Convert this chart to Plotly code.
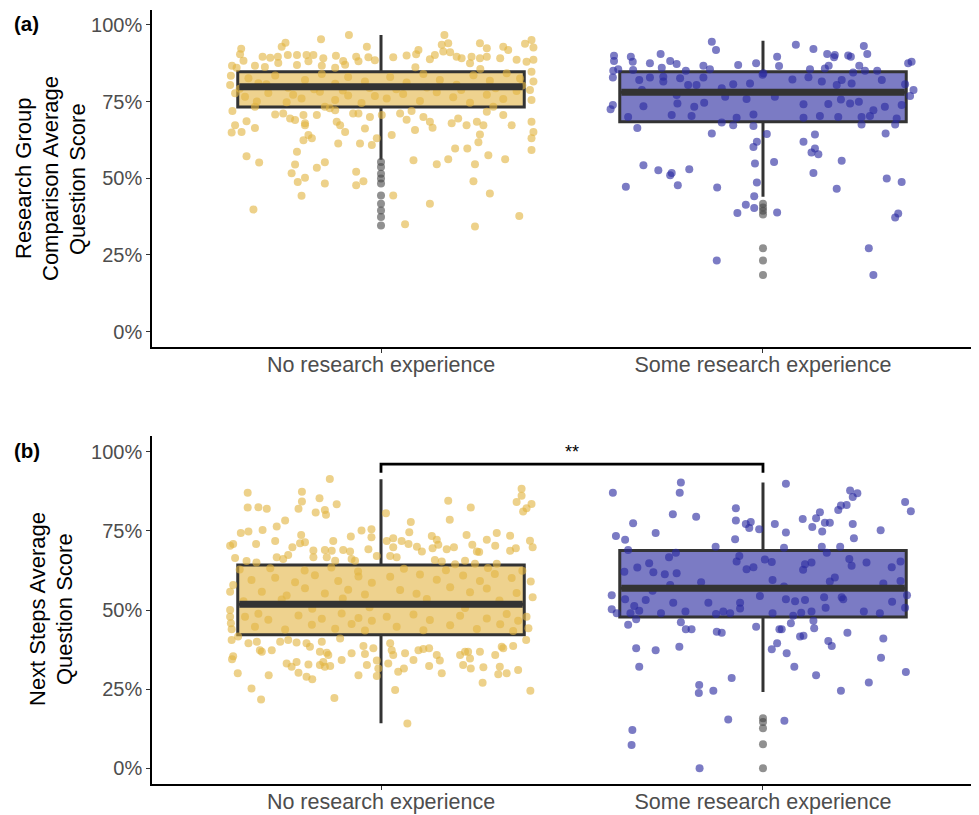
import plotly.graph_objects as go

CATEGORIES = ["No research experience", "Some research experience"]
POSITIONS = [1, 2]
Y_TICKS = [0, 25, 50, 75, 100]
Y_TICK_LABELS = ["0%", "25%", "50%", "75%", "100%"]

# ---- Panel (a): Research Group Comparison ----
A_Q1 = [73.2, 68.4]
A_MEDIAN = [79.8, 78.0]
A_Q3 = [84.7, 84.7]
A_LOWER = [56.0, 44.0]
A_UPPER = [96.7, 94.8]
A_OUTLIERS_NO = [55.3, 53.7, 51.5, 49.9, 48.3, 44.4, 41.7, 39.5, 37.4, 34.6]
A_OUTLIERS_SOME = [41.7, 40.5, 39.4, 38.2, 27.2, 23.2, 18.5]

# jittered points: (horizontal jitter offset, score)
A_POINTS_NO = [
    (-0.084, 96.7), (-0.157, 95.3), (-0.25, 94.2), (-0.26, 92.9), (-0.366, 92.2), (-0.369, 90.4), (-0.36, 88.3),
    (-0.31, 89.6), (-0.29, 89.3), (-0.27, 89.6), (-0.244, 90.2), (-0.22, 90.2), (-0.195, 90.2), (-0.177, 90.2),
    (-0.151, 89.1), (-0.118, 89.9), (-0.099, 88.2), (-0.065, 89.6), (-0.033, 89.4), (-0.037, 92.9),
    (-0.39, 86.7), (-0.378, 86.0), (-0.33, 86.7), (-0.304, 86.3), (-0.269, 87.6), (-0.22, 86.9), (-0.19, 88.1),
    (-0.155, 86.7), (-0.12, 86.0), (-0.094, 87.0), (-0.059, 88.1), (-0.016, 88.5),
    (-0.393, 83.4), (-0.395, 80.4), (-0.382, 77.7),
    (-0.389, 71.9), (-0.33, 73.3), (-0.277, 70.8), (-0.256, 71.1), (-0.238, 69.5), (-0.225, 69.0), (-0.203, 70.6),
    (-0.199, 67.9), (-0.168, 70.6), (-0.147, 73.3), (-0.134, 72.8), (-0.12, 72.2), (-0.073, 71.1), (-0.059, 71.1),
    (-0.029, 70.0), (0.002, 70.6), (-0.382, 67.3), (-0.352, 68.6), (-0.33, 66.4), (-0.391, 64.9), (-0.365, 65.1),
    (-0.199, 67.3), (-0.19, 64.1), (-0.203, 62.4), (-0.181, 63.0), (-0.116, 68.4), (-0.107, 67.3), (-0.094, 65.1),
    (-0.042, 66.2), (-0.024, 60.8), (-0.011, 63.0), (-0.112, 61.3), (-0.055, 61.3), (-0.22, 58.6), (-0.352, 57.2),
    (-0.319, 55.1), (-0.225, 54.5), (-0.234, 51.6), (-0.147, 55.2), (-0.168, 53.4), (-0.065, 52.1), (-0.046, 49.0),
    (-0.065, 47.7), (-0.218, 48.8), (-0.199, 50.2), (-0.147, 48.3), (-0.208, 44.3), (-0.334, 39.8),
    (-0.347, 82.6), (-0.321, 81.0), (-0.277, 83.5), (-0.243, 79.5), (-0.199, 82.0), (-0.155, 84.0), (-0.12, 80.8),
    (-0.086, 83.0), (-0.042, 81.5), (-0.356, 76.6), (-0.325, 75.0), (-0.295, 77.8), (-0.247, 74.8), (-0.208, 76.0),
    (-0.16, 78.2), (-0.12, 75.5), (-0.086, 77.0), (-0.051, 74.5), (-0.016, 76.8),
    (-0.37, 79.2), (-0.3, 80.6), (-0.23, 77.2), (-0.175, 79.0), (-0.1, 78.6), (-0.03, 79.4),
    (0.166, 96.7), (0.159, 93.5), (0.176, 94.0), (0.163, 91.3), (0.181, 91.1), (0.198, 89.6), (0.211, 89.1),
    (0.098, 91.8), (0.092, 90.4), (0.032, 89.4), (0.067, 90.0), (0.128, 88.8), (0.141, 90.2), (0.237, 89.6),
    (0.233, 87.5), (0.259, 94.0), (0.277, 92.4), (0.259, 89.1), (0.277, 89.6), (0.312, 89.1), (0.32, 92.9),
    (0.333, 91.8), (0.355, 88.6), (0.377, 93.8), (0.394, 95.1), (0.399, 92.6), (0.381, 88.0), (0.399, 88.6),
    (0.394, 84.7), (0.399, 81.5), (0.39, 78.8), (0.394, 75.5),
    (0.05, 71.1), (0.067, 69.1), (0.08, 71.9), (0.111, 70.0), (0.128, 68.4), (0.135, 66.5), (0.185, 67.9),
    (0.202, 69.5), (0.224, 67.3), (0.251, 68.4), (0.268, 67.3), (0.277, 71.7), (0.294, 73.3), (0.32, 70.6),
    (0.342, 67.3), (0.394, 68.4), (0.399, 65.1), (0.394, 63.0), (0.259, 64.3), (0.255, 61.7), (0.194, 59.7),
    (0.226, 59.7), (0.394, 59.2), (0.028, 64.1), (0.089, 65.7),
    (0.085, 55.9), (0.146, 54.6), (0.176, 56.2), (0.246, 54.6), (0.281, 57.5), (0.325, 56.2), (0.242, 49.0),
    (0.285, 45.0), (0.032, 44.4), (0.128, 41.7), (0.362, 37.7), (0.063, 35.0), (0.246, 34.3),
    (0.024, 83.0), (0.067, 81.2), (0.111, 84.0), (0.154, 82.0), (0.198, 80.5), (0.242, 83.6), (0.285, 81.8),
    (0.329, 84.2), (0.364, 82.5), (0.015, 76.0), (0.058, 77.5), (0.102, 75.2), (0.146, 78.0), (0.189, 76.4),
    (0.233, 74.6), (0.277, 77.2), (0.32, 75.8), (0.355, 78.4),
    (0.04, 79.0), (0.12, 79.6), (0.21, 78.8), (0.3, 79.3), (0.37, 80.2), (0.26, 85.6), (0.09, 86.2),
]

A_POINTS_SOME = [
    (-0.134, 94.5), (-0.123, 91.8), (-0.268, 90.5), (-0.243, 88.2), (-0.226, 87.2), (-0.296, 87.5), (-0.346, 89.6),
    (-0.341, 88.0), (-0.39, 89.9), (-0.39, 88.2), (-0.392, 85.0), (-0.393, 82.8), (-0.379, 85.5), (-0.34, 85.3),
    (-0.265, 86.0), (-0.202, 85.0), (-0.156, 86.7), (-0.139, 85.5), (-0.065, 86.9), (-0.018, 87.5), (0.001, 84.2),
    (-0.393, 73.9), (-0.399, 72.5),
    (-0.324, 82.0), (-0.296, 82.8), (-0.261, 83.1), (-0.217, 82.6), (-0.196, 80.4), (-0.174, 80.4), (-0.156, 82.8),
    (-0.078, 80.6), (-0.034, 80.9), (-0.313, 73.5), (-0.224, 74.4), (-0.18, 73.3), (-0.154, 74.6), (-0.239, 70.6),
    (-0.187, 70.3), (-0.099, 76.6), (-0.043, 75.8), (-0.025, 70.8), (-0.069, 69.7), (-0.353, 70.0), (-0.108, 79.3),
    (-0.226, 77.1), (-0.261, 81.5), (-0.317, 78.8),
    (-0.329, 66.4), (-0.134, 64.6), (-0.108, 68.2), (-0.078, 67.3), (-0.025, 67.0), (-0.016, 61.9), (-0.025, 60.2),
    (-0.021, 54.8), (-0.016, 48.6), (-0.023, 44.1), (-0.045, 41.4), (-0.067, 38.7), (-0.023, 40.3), (-0.313, 54.2),
    (-0.274, 52.6), (-0.243, 51.0), (-0.239, 51.7), (-0.193, 52.9), (-0.223, 47.7), (-0.359, 47.2), (-0.12, 47.0),
    (-0.121, 23.2),
    (0.086, 93.5), (0.132, 92.1), (0.168, 90.5), (0.186, 89.4), (0.188, 90.2), (0.223, 90.0), (0.23, 89.6),
    (0.264, 93.1), (0.273, 90.5), (0.252, 86.7), (0.172, 86.7), (0.162, 85.8), (0.123, 85.5), (0.037, 89.6),
    (0.042, 86.6), (0.38, 87.5), (0.389, 88.0), (0.299, 85.0), (0.267, 85.0), (0.236, 84.5),
    (0.394, 78.8), (0.385, 76.8), (0.372, 80.6),
    (0.077, 82.2), (0.119, 82.9), (0.154, 81.5), (0.206, 82.0), (0.232, 80.9), (0.311, 82.0), (0.106, 74.1),
    (0.171, 74.2), (0.204, 75.7), (0.228, 74.4), (0.251, 74.9), (0.289, 72.2), (0.319, 73.3), (0.363, 73.9),
    (0.106, 69.7), (0.149, 70.3), (0.197, 70.0), (0.258, 70.0), (0.28, 70.3), (0.35, 69.5), (0.031, 76.6),
    (-0.001, 83.7), (0.193, 80.4),
    (0.01, 64.4), (0.136, 64.3), (0.106, 61.9), (0.136, 59.7), (0.127, 58.4), (0.145, 57.8), (0.206, 55.7),
    (0.029, 55.3), (0.132, 51.7), (0.193, 46.6), (0.321, 64.6), (0.258, 67.5), (0.346, 67.5), (0.324, 49.9),
    (0.363, 48.8), (0.037, 38.8), (0.354, 38.5), (0.346, 37.2), (0.277, 27.2), (0.289, 18.5),
]

# ---- Panel (b): Next Steps ----
B_Q1 = [42.2, 47.8]
B_MEDIAN = [51.8, 56.9]
B_Q3 = [64.2, 68.8]
B_LOWER = [14.2, 24.1]
B_UPPER = [91.3, 90.3]
B_OUTLIERS_NO = []
B_OUTLIERS_SOME = [15.8, 14.6, 12.6, 7.6, 0.0]
B_SIG_Y = [93.4, 96.1]
B_SIG_LABEL = "**"

B_POINTS_NO = [
    (-0.134, 91.4), (-0.349, 87.1), (-0.207, 87.4), (-0.349, 82.4), (-0.321, 82.5), (-0.299, 82.0), (-0.216, 82.0),
    (-0.207, 84.3), (-0.161, 85.3), (-0.116, 83.4), (-0.171, 80.8), (-0.147, 81.6), (-0.144, 80.1), (-0.251, 78.3),
    (-0.273, 76.4), (-0.31, 75.3), (-0.347, 74.8), (-0.367, 74.3), (-0.395, 70.3), (-0.387, 70.9), (-0.327, 70.9),
    (-0.277, 71.8), (-0.209, 73.7), (-0.212, 71.1), (-0.199, 71.4), (-0.232, 69.8), (-0.177, 68.8), (-0.147, 69.0),
    (-0.129, 68.7), (-0.125, 71.8), (-0.099, 69.0), (-0.079, 73.2), (-0.081, 68.5), (-0.051, 75.1), (-0.025, 75.5),
    (-0.025, 73.0), (-0.033, 69.2), (-0.382, 66.4), (-0.352, 65.5), (-0.326, 65.0), (-0.273, 66.7), (-0.256, 66.1),
    (-0.243, 67.4), (-0.177, 66.7), (-0.142, 66.7), (-0.12, 65.6), (-0.077, 66.1), (-0.068, 65.6), (-0.011, 67.1),
    (-0.387, 57.9), (-0.395, 55.8), (-0.395, 50.0), (-0.395, 47.9), (-0.393, 45.8), (-0.391, 43.9), (-0.391, 40.5),
    (-0.374, 41.6), (-0.347, 39.5), (-0.325, 40.0), (-0.312, 36.8), (-0.317, 37.3), (-0.286, 37.3), (-0.264, 40.0),
    (-0.243, 40.5), (-0.221, 39.7), (-0.195, 39.5), (-0.186, 38.4), (-0.155, 40.0), (-0.16, 36.8), (-0.142, 36.5),
    (-0.138, 35.8), (-0.107, 41.0), (-0.103, 34.2), (-0.077, 36.3), (-0.046, 38.6), (-0.042, 36.1), (-0.037, 32.6),
    (-0.02, 37.9), (-0.011, 34.0), (-0.007, 31.5), (-0.247, 33.1), (-0.234, 32.1), (-0.221, 33.6), (-0.216, 30.2),
    (-0.19, 32.8), (-0.16, 32.6), (-0.147, 32.1), (-0.151, 33.6), (-0.133, 32.3), (-0.195, 28.9), (-0.18, 28.1),
    (-0.294, 29.4), (-0.375, 30.0), (-0.39, 34.4), (-0.387, 35.4), (-0.059, 29.4), (-0.011, 29.1), (-0.339, 25.2),
    (-0.314, 21.7), (-0.122, 22.2),
    (-0.339, 59.5), (-0.277, 60.2), (-0.225, 58.8), (-0.173, 61.0), (-0.112, 59.2), (-0.059, 60.6), (-0.024, 58.6),
    (-0.312, 55.8), (-0.247, 54.6), (-0.199, 56.9), (-0.147, 55.2), (-0.086, 56.4), (-0.042, 54.9),
    (-0.356, 47.9), (-0.321, 48.8), (-0.295, 46.9), (-0.216, 48.3), (-0.155, 47.2), (-0.103, 48.9), (-0.059, 47.5),
    (-0.024, 46.6), (-0.33, 44.7), (-0.251, 43.8), (-0.181, 45.3), (-0.12, 44.1), (-0.077, 45.6), (-0.042, 43.5),
    (-0.37, 62.8), (-0.29, 63.2), (-0.2, 62.5), (-0.13, 63.4), (-0.06, 62.2), (-0.36, 52.8), (-0.26, 53.3),
    (-0.18, 50.4), (-0.1, 53.6), (-0.03, 50.9),
    (0.368, 88.3), (0.368, 86.1), (0.355, 84.1), (0.394, 83.5), (0.381, 82.2), (0.372, 81.1), (0.176, 84.5),
    (0.235, 82.4), (0.18, 78.5), (0.078, 77.8), (0.074, 74.6), (0.133, 73.4), (0.146, 72.2), (0.15, 70.6),
    (0.054, 71.8), (0.072, 70.9), (0.094, 70.0), (0.107, 68.5), (0.032, 72.7), (0.015, 71.8), (0.013, 80.6),
    (0.032, 69.8), (0.041, 66.7), (0.024, 67.1), (0.135, 69.5), (0.172, 69.2), (0.191, 69.8), (0.224, 73.7),
    (0.239, 70.6), (0.251, 68.5), (0.257, 68.3), (0.277, 72.2), (0.299, 70.3), (0.303, 74.3), (0.338, 73.5),
    (0.338, 68.7), (0.353, 69.5), (0.39, 71.9), (0.397, 69.8), (0.141, 65.8), (0.159, 65.3), (0.194, 64.5),
    (0.22, 65.6), (0.246, 64.6), (0.303, 64.6),
    (0.392, 59.0), (0.397, 54.0), (0.381, 47.9), (0.386, 44.2), (0.38, 40.5),
    (0.024, 39.5), (0.028, 37.3), (0.032, 35.8), (0.019, 33.1), (0.063, 36.3), (0.045, 30.5), (0.06, 31.5),
    (0.085, 34.2), (0.098, 37.3), (0.111, 37.7), (0.126, 37.9), (0.146, 35.8), (0.154, 34.0), (0.126, 32.3),
    (0.159, 30.0), (0.207, 35.8), (0.22, 36.8), (0.228, 36.8), (0.233, 34.7), (0.215, 32.6), (0.235, 31.5),
    (0.259, 36.8), (0.268, 31.9), (0.299, 35.8), (0.316, 38.4), (0.32, 37.9), (0.346, 38.6), (0.307, 29.7),
    (0.329, 30.0), (0.311, 32.1), (0.359, 31.0), (0.266, 27.0), (0.037, 24.7), (0.391, 24.5), (0.069, 14.1),
    (0.024, 60.5), (0.102, 61.2), (0.146, 59.6), (0.215, 60.9), (0.259, 59.2), (0.298, 61.4), (0.342, 60.1),
    (0.05, 56.3), (0.093, 55.1), (0.181, 57.2), (0.233, 55.6), (0.277, 56.8), (0.355, 55.4),
    (0.015, 47.9), (0.085, 48.6), (0.128, 46.8), (0.207, 48.2), (0.277, 47.3), (0.329, 48.7), (0.359, 46.6),
    (0.041, 44.7), (0.111, 43.6), (0.181, 45.2), (0.251, 44.0), (0.312, 45.5), (0.346, 43.4),
    (0.06, 63.0), (0.17, 62.6), (0.28, 63.3), (0.37, 62.4), (0.12, 53.5), (0.22, 50.6), (0.31, 53.0),
]

B_POINTS_SOME = [
    (-0.215, 90.3), (-0.218, 87.1), (-0.393, 87.1), (-0.236, 80.3), (-0.175, 79.5), (-0.34, 77.4), (-0.281, 74.3),
    (-0.385, 73.4), (-0.361, 72.2), (-0.071, 82.2), (-0.071, 78.3), (-0.073, 72.4), (-0.045, 77.2), (-0.032, 77.8),
    (-0.036, 75.9), (-0.01, 75.5), (-0.124, 70.0), (-0.353, 69.0),
    (-0.396, 54.7), (-0.396, 50.2), (-0.383, 49.0),
    (-0.298, 64.8), (-0.246, 66.7), (-0.228, 68.1), (-0.329, 63.4), (-0.287, 61.9), (-0.257, 61.3), (-0.226, 61.6),
    (-0.162, 58.8), (-0.069, 65.3), (-0.062, 67.1), (-0.043, 62.9), (-0.025, 63.5), (-0.361, 53.4), (-0.307, 53.2),
    (-0.337, 51.3), (-0.324, 49.8), (-0.347, 49.0), (-0.267, 49.0), (-0.235, 52.3), (-0.203, 49.5), (-0.143, 52.3),
    (-0.123, 48.7), (-0.104, 49.5), (-0.086, 49.0), (-0.06, 52.3), (-0.06, 50.5), (-0.008, 54.4), (-0.363, 62.1),
    (-0.243, 57.9), (-0.289, 56.1),
    (-0.353, 45.3), (-0.332, 47.1), (-0.215, 46.1), (-0.202, 43.9), (-0.187, 43.9), (-0.121, 43.1), (-0.108, 42.8),
    (-0.018, 44.7), (-0.332, 37.9), (-0.281, 37.3), (-0.219, 38.4), (-0.324, 32.1), (-0.167, 26.3), (-0.168, 23.8),
    (-0.13, 24.5), (-0.082, 28.5), (-0.091, 15.4), (-0.342, 12.1), (-0.344, 7.3), (-0.166, 0.0),
    (0.06, 89.9), (0.228, 87.8), (0.247, 86.9), (0.235, 85.7), (0.219, 83.2), (0.204, 83.0), (0.197, 81.6),
    (0.149, 80.9), (0.139, 79.0), (0.104, 78.8), (0.031, 77.2), (0.06, 74.5), (0.129, 76.2), (0.155, 74.8),
    (0.162, 77.6), (0.175, 77.6), (0.235, 77.2), (0.238, 72.7), (0.308, 75.2), (0.372, 84.1), (0.387, 81.2),
    (0.055, 69.7), (0.154, 70.0), (0.202, 70.0), (0.167, 68.1),
    (0.005, 66.0), (0.023, 65.2), (0.11, 64.5), (0.127, 65.0), (0.105, 62.7), (0.226, 66.1), (0.232, 64.0),
    (0.271, 65.0), (0.337, 63.5), (0.36, 65.3), (0.025, 59.5), (0.175, 59.0), (0.188, 60.3), (0.315, 58.4),
    (0.36, 59.2), (0.06, 53.4), (0.084, 52.8), (0.11, 53.2), (0.16, 54.0), (0.206, 54.0), (0.21, 53.4),
    (0.338, 52.6), (0.372, 50.7), (0.025, 49.0), (0.079, 48.2), (0.1, 49.1), (0.127, 49.5), (0.164, 50.7),
    (0.264, 49.5), (0.306, 49.0), (0.055, 57.4), (0.377, 54.7),
    (0.073, 45.8), (0.132, 46.6), (0.134, 44.2), (0.043, 43.9), (0.049, 43.9), (0.097, 41.6), (0.106, 41.9),
    (0.171, 40.2), (0.18, 38.6), (0.221, 42.8), (0.315, 41.0), (0.309, 34.9), (0.037, 39.5), (0.023, 37.6),
    (0.062, 36.3), (0.082, 32.1), (0.139, 29.4), (0.204, 24.5), (0.277, 27.1), (0.374, 30.4), (0.056, 15.0),
]

Y_TITLE_A = ["Research Group", "Comparison Average", "Question Score"]
Y_TITLE_B = ["Next Steps Average", "Question Score"]
PANEL_LABELS = ["(a)", "(b)"]

# ---- styles ----
FONT = "Liberation Sans, Arial, Helvetica, sans-serif"
PT_COLORS = ["rgba(226,180,66,0.62)", "rgba(42,42,160,0.62)"]
BOX_FILLS = ["rgba(226,180,66,0.6)", "rgba(42,42,160,0.62)"]
OUT_COLOR = "rgba(70,70,70,0.6)"
DARK = "#333333"
BOX_W = 0.75

# page body has an 8px margin: figure occupies pixels 8..979 / 8..815
OFF = 8
W, H = 979 - OFF, 815 - OFF


def fx(px):
    return (px - OFF) / W


def fy(py):
    return 1 - (py - OFF) / H


fig = go.Figure()

panels = [
    dict(xa="x", ya="y", pts=[A_POINTS_NO, A_POINTS_SOME], q1=A_Q1, med=A_MEDIAN, q3=A_Q3, lo=A_LOWER,
         hi=A_UPPER, out=[A_OUTLIERS_NO, A_OUTLIERS_SOME]),
    dict(xa="x2", ya="y2", pts=[B_POINTS_NO, B_POINTS_SOME], q1=B_Q1, med=B_MEDIAN, q3=B_Q3, lo=B_LOWER,
         hi=B_UPPER, out=[B_OUTLIERS_NO, B_OUTLIERS_SOME]),
]

for p in panels:
    for g in range(2):
        pos = POSITIONS[g]
        pts = p["pts"][g]
        fig.add_trace(go.Scatter(
            x=[pos + o for o, _ in pts], y=[v for _, v in pts], mode="markers",
            marker=dict(size=8, color=PT_COLORS[g], line=dict(width=0)),
            xaxis=p["xa"], yaxis=p["ya"], hoverinfo="skip"))
    for g in range(2):
        pos = POSITIONS[g]
        fig.add_trace(go.Box(
            x=[pos], q1=[p["q1"][g]], median=[p["med"][g]], q3=[p["q3"][g]],
            lowerfence=[p["lo"][g]], upperfence=[p["hi"][g]], width=BOX_W, whiskerwidth=0,
            fillcolor=BOX_FILLS[g], line=dict(color=DARK, width=3), boxpoints=False,
            xaxis=p["xa"], yaxis=p["ya"]))
        fig.add_trace(go.Scatter(
            x=[pos - BOX_W / 2 + 0.004, pos + BOX_W / 2 - 0.004], y=[p["med"][g], p["med"][g]], mode="lines",
            line=dict(color=DARK, width=7), xaxis=p["xa"], yaxis=p["ya"], hoverinfo="skip"))
        outs = p["out"][g]
        if outs:
            fig.add_trace(go.Scatter(
                x=[pos] * len(outs), y=outs, mode="markers",
                marker=dict(size=8, color=OUT_COLOR, line=dict(width=0)),
                xaxis=p["xa"], yaxis=p["ya"], hoverinfo="skip"))

# significance bracket on panel (b)
fig.add_trace(go.Scatter(
    x=[POSITIONS[0], POSITIONS[0], POSITIONS[1], POSITIONS[1]],
    y=[B_SIG_Y[0], B_SIG_Y[1], B_SIG_Y[1], B_SIG_Y[0]], mode="lines",
    line=dict(color="black", width=2.8), xaxis="x2", yaxis="y2", hoverinfo="skip"))

XDOM = [fx(152), fx(975)]
XRANGE = [0.4005, 2.555]


def xaxis(anchor):
    return dict(domain=XDOM, range=XRANGE, anchor=anchor, tickvals=POSITIONS, ticktext=CATEGORIES,
                showline=True, linecolor="black", linewidth=1.5, ticks="outside", ticklen=4,
                tickcolor=DARK, tickwidth=1.2, tickfont=dict(size=21.5, color="#4d4d4d", family=FONT),
                ticklabelstandoff=-7, showgrid=False, zeroline=False)


def yaxis(anchor, dom):
    return dict(domain=dom, range=[-5, 105], anchor=anchor, tickvals=Y_TICKS, ticktext=Y_TICK_LABELS,
                showline=True, linecolor="black", linewidth=1.5, ticks="outside", ticklen=4,
                tickcolor=DARK, tickwidth=1.2, tickfont=dict(size=20, color="#4d4d4d", family=FONT),
                showgrid=False, zeroline=False)


annotations = []
for txt, xpx in zip(Y_TITLE_A, [23, 50, 77]):
    annotations.append(dict(text=txt, x=fx(xpx), y=fy(179), xref="paper", yref="paper", textangle=-90,
                            showarrow=False, font=dict(size=22, color="black", family=FONT),
                            xanchor="center", yanchor="middle"))
for txt, xpx in zip(Y_TITLE_B, [37, 64]):
    annotations.append(dict(text=txt, x=fx(xpx), y=fy(609), xref="paper", yref="paper", textangle=-90,
                            showarrow=False, font=dict(size=22, color="black", family=FONT),
                            xanchor="center", yanchor="middle"))
annotations += [
    dict(text="<b>" + PANEL_LABELS[0] + "</b>", x=fx(12), y=fy(24), xref="paper", yref="paper",
         showarrow=False, font=dict(size=20.5, color="black", family=FONT), xanchor="left", yanchor="middle"),
    dict(text="<b>" + PANEL_LABELS[1] + "</b>", x=fx(12), y=fy(450), xref="paper", yref="paper",
         showarrow=False, font=dict(size=20.5, color="black", family=FONT), xanchor="left", yanchor="middle"),
    dict(text=B_SIG_LABEL, x=(POSITIONS[0] + POSITIONS[1]) / 2, y=B_SIG_Y[1], xref="x2", yref="y2",
         showarrow=False, font=dict(size=18, color="black", family=FONT), xanchor="center", yanchor="bottom",
         yshift=0),
]

fig.update_layout(
    width=W, height=H, margin=dict(l=0, r=0, t=0, b=0),
    paper_bgcolor="white", plot_bgcolor="white", showlegend=False,
    font=dict(family=FONT),
    xaxis=xaxis("y"), yaxis=yaxis("x", [fy(347), fy(9.5)]),
    xaxis2=xaxis("y2"), yaxis2=yaxis("x2", [fy(784), fy(436)]),
    annotations=annotations,
)

fig.write_html("out.html")
